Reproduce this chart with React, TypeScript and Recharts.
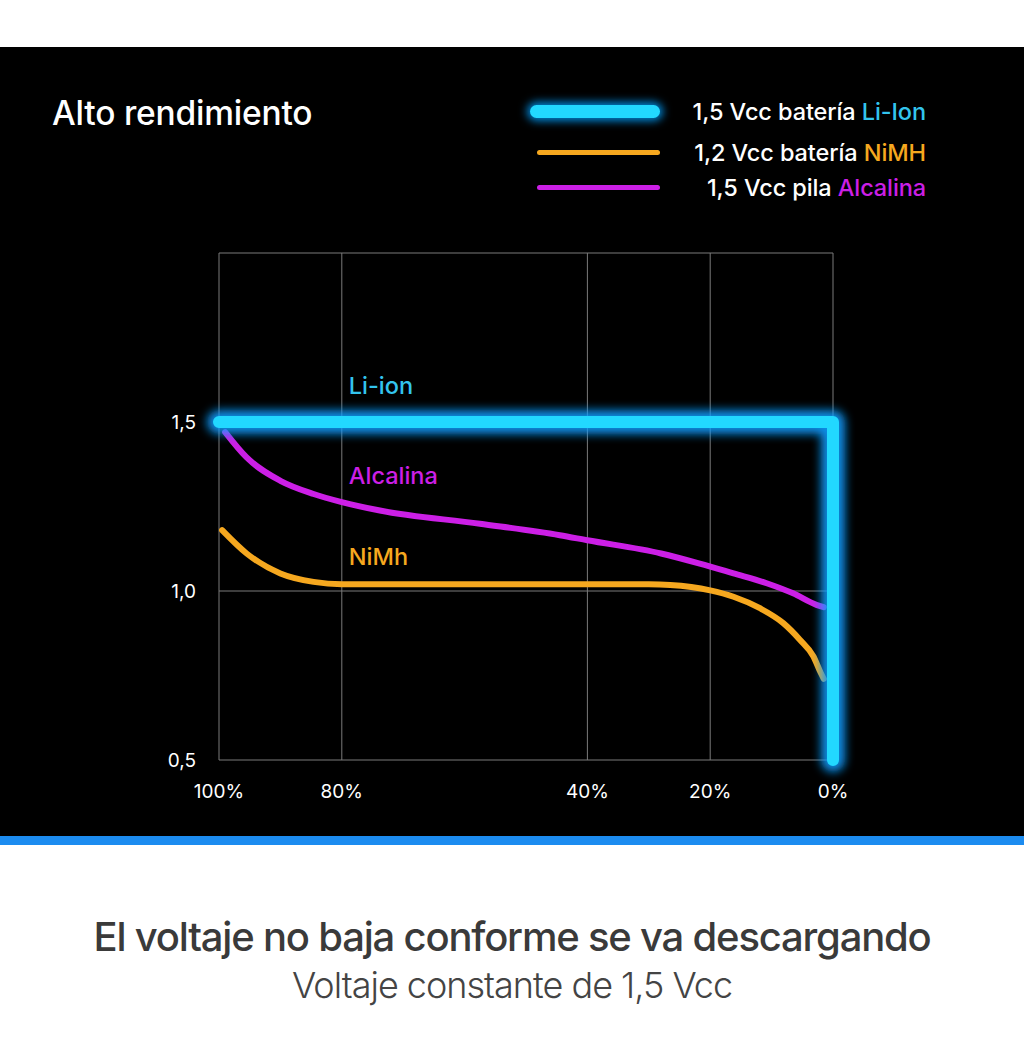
import { LineChart, Line, XAxis, YAxis, CartesianGrid, ReferenceDot } from "recharts";

// descarga (%) y voltaje
const liIonX = [100, 0, 0];
const liIonV = [1.5, 1.5, 0.5];

const alcalinaX = [99, 95.5, 90, 84.6, 80, 73.8, 57.5, 44.5, 40, 28, 21.7, 16.2, 10.8, 6.5, 2.7, 1.5];
const alcalinaV = [1.47, 1.395, 1.326, 1.287, 1.263, 1.238, 1.199, 1.165, 1.15, 1.111, 1.081, 1.052, 1.023, 0.993, 0.959, 0.952];

const nimhX = [99.5, 95.5, 90, 84.6, 80, 60, 40, 30, 26.5, 20, 16.2, 11.9, 8.1, 5.4, 3.2, 2, 1.5];
const nimhV = [1.18, 1.111, 1.052, 1.027, 1.02, 1.02, 1.02, 1.02, 1.018, 1.002, 0.983, 0.949, 0.905, 0.856, 0.807, 0.758, 0.74];

const xTicks = [100, 80, 40, 20, 0];
const yTicks = [0.5, 1, 1.5, 2];

const seriesNames = ["Li-ion", "Alcalina", "NiMh"];
const legendPrefixes = ["1,5 Vcc batería ", "1,2 Vcc batería ", "1,5 Vcc pila "];
const legendNames = ["Li-Ion", "NiMH", "Alcalina"];

const CYAN = "#22d8ff";
const CYAN_TEXT = "#33c4ee";
const ORANGE = "#f6a81f";
const MAGENTA = "#cc1fe6";

const zip = (xs: number[], vs: number[]) => xs.map((x, i) => ({ x, v: vs[i] }));
const liIon = zip(liIonX, liIonV);
const alcalina = zip(alcalinaX, alcalinaV);
const nimh = zip(nimhX, nimhV);

const FONT = "Inter, 'Open Sans', sans-serif";

function LegendBox() {
  const colors = [CYAN_TEXT, ORANGE, MAGENTA];
  const rowCenters = [64, 105, 140];
  return (
    <div style={{ position: "absolute", left: 520, top: 0, width: 406 }}>
      {legendNames.map((name, i) => (
        <div
          key={name}
          style={{
            position: "absolute",
            left: 0,
            top: rowCenters[i] - 16,
            width: 406,
            height: 32,
            display: "flex",
            alignItems: "center",
            justifyContent: "space-between",
          }}
        >
          {i === 0 ? (
            <div
              style={{
                marginLeft: 10,
                width: 130,
                height: 13,
                borderRadius: 7,
                background: CYAN,
                boxShadow: "0 0 8px 3px rgba(0,160,255,0.85)",
              }}
            />
          ) : (
            <div style={{ marginLeft: 17, width: 123, height: 5, borderRadius: 3, background: colors[i] }} />
          )}
          <span style={{ color: "#fff", fontSize: 23.5, fontWeight: 500, letterSpacing: -0.1, whiteSpace: "nowrap" }}>
            {legendPrefixes[i]}
            <span style={{ color: colors[i] }}>{name}</span>
          </span>
        </div>
      ))}
    </div>
  );
}

const fmt = (v: number) => (v === 2 ? "" : v.toFixed(1).replace(".", ","));

export default function App() {
  return (
    <div
      style={{
        position: "absolute",
        left: 0,
        top: 0,
        width: 1024,
        height: 1053,
        background: "#fff",
        fontFamily: FONT,
      }}
    >
      <div style={{ position: "absolute", left: 0, top: 47, width: 1024, height: 789, background: "#000" }}>
        <div style={{ position: "absolute", left: 52, top: 46, color: "#fff", fontSize: 33.5, fontWeight: 500, letterSpacing: -0.2 }}>
          Alto rendimiento
        </div>
        <LineChart width={1024} height={789} margin={{ top: 206, right: 191, left: 159, bottom: 36 }}>
          <defs>
            <filter id="blurGlow" filterUnits="userSpaceOnUse" x="0" y="0" width="1024" height="789">
              <feGaussianBlur stdDeviation="5" />
            </filter>
          </defs>
          <CartesianGrid stroke="#7a7a7a" strokeWidth={1} />
          <XAxis
            dataKey="x"
            type="number"
            domain={[0, 100]}
            reversed
            ticks={xTicks}
            tickFormatter={(v) => `${v}%`}
            axisLine={false}
            tickLine={false}
            tickMargin={19}
            height={40}
            tick={{ fill: "#fff", fontSize: 19, fontFamily: FONT }}
            allowDuplicatedCategory={false}
          />
          <YAxis
            type="number"
            domain={[0.5, 2]}
            ticks={yTicks}
            tickFormatter={fmt}
            axisLine={false}
            tickLine={false}
            tickMargin={17}
            width={60}
            tick={{ fill: "#fff", fontSize: 19, fontFamily: FONT }}
          />
          <Line
            data={nimh}
            dataKey="v"
            type="monotone"
            stroke={ORANGE}
            strokeWidth={6}
            strokeLinecap="round"
            dot={false}
            activeDot={false}
            isAnimationActive={false}
          />
          <Line
            data={alcalina}
            dataKey="v"
            type="monotone"
            stroke={MAGENTA}
            strokeWidth={6}
            strokeLinecap="round"
            dot={false}
            activeDot={false}
            isAnimationActive={false}
          />
          <Line
            data={liIon}
            dataKey="v"
            type="linear"
            stroke="#0a9cff"
            strokeWidth={24}
            strokeOpacity={0.9}
            strokeLinecap="round"
            strokeLinejoin="round"
            filter="url(#blurGlow)"
            dot={false}
            activeDot={false}
            isAnimationActive={false}
          />
          <Line
            data={liIon}
            dataKey="v"
            type="linear"
            stroke={CYAN}
            strokeWidth={12}
            strokeLinecap="round"
            strokeLinejoin="round"
            dot={false}
            activeDot={false}
            isAnimationActive={false}
          />
          <ReferenceDot
            x={80}
            y={1.609}
            r={0}
            fill="none"
            stroke="none"
            label={{ value: seriesNames[0], position: "right", offset: 7, fill: CYAN_TEXT, fontSize: 23.5, fontWeight: 500 }}
          />
          <ReferenceDot
            x={80}
            y={1.341}
            r={0}
            fill="none"
            stroke="none"
            label={{ value: seriesNames[1], position: "right", offset: 7, fill: MAGENTA, fontSize: 23.5, fontWeight: 500 }}
          />
          <ReferenceDot
            x={80}
            y={1.103}
            r={0}
            fill="none"
            stroke="none"
            label={{ value: seriesNames[2], position: "right", offset: 7, fill: ORANGE, fontSize: 23.5, fontWeight: 500 }}
          />
        </LineChart>
        <LegendBox />
      </div>
      <div style={{ position: "absolute", left: 0, top: 836, width: 1024, height: 9, background: "#1c8cf0" }} />
      <div
        style={{
          position: "absolute",
          left: 0,
          top: 913,
          width: 1024,
          textAlign: "center",
          color: "#3a3a3a",
          fontSize: 40,
          lineHeight: "48px",
          fontWeight: 500,
          letterSpacing: -1.2,
        }}
      >
        El voltaje no baja conforme se va descargando
      </div>
      <div
        style={{
          position: "absolute",
          left: 0,
          top: 963,
          width: 1024,
          textAlign: "center",
          color: "#444",
          fontSize: 36,
          lineHeight: "44px",
          fontWeight: 300,
          letterSpacing: -1,
        }}
      >
        Voltaje constante de 1,5 Vcc
      </div>
    </div>
  );
}
